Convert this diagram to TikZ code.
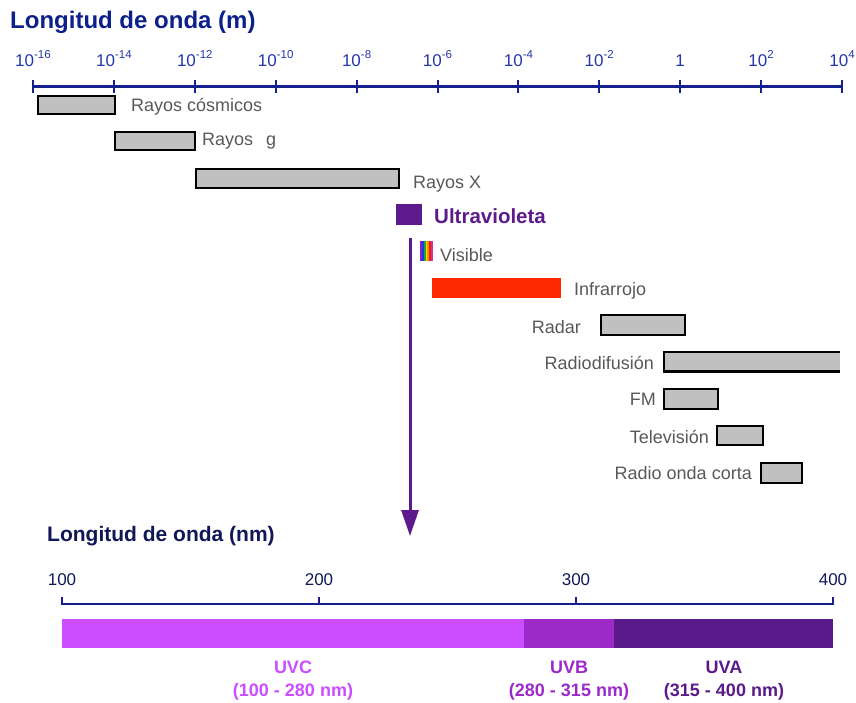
\documentclass[tikz,border=0pt]{standalone}
\usepackage{fontspec}
\setmainfont{Liberation Sans}
\usetikzlibrary{arrows.meta,calc}
\definecolor{navy}{RGB}{22,32,140}
\definecolor{ticklbl}{RGB}{35,55,165}
\definecolor{titletop}{RGB}{12,32,140}
\definecolor{navydark}{RGB}{16,24,88}
\definecolor{barg}{RGB}{192,192,192}
\definecolor{lblgray}{RGB}{88,88,88}
\definecolor{uvpurple}{RGB}{92,26,140}
\definecolor{uvccol}{RGB}{204,76,255}
\definecolor{uvbcol}{RGB}{155,42,201}
\definecolor{uvacol}{RGB}{90,26,138}
\definecolor{irred}{RGB}{255,42,0}
\begin{document}
\begin{tikzpicture}[x=1pt,y=-1pt,
  bar/.style={draw=black, line width=2.3pt, fill=barg, inner sep=0, anchor=north west},
  lbl/.style={text=lblgray, font=\fontsize{18}{20}\selectfont, inner sep=0},
  ticklabel/.style={text=ticklbl, font=\fontsize{17}{18}\selectfont, inner sep=0, anchor=base},
  nmlabel/.style={text=navydark, font=\fontsize{17}{18}\selectfont, inner sep=0, anchor=base},
  uvlbl/.style={font=\bfseries\fontsize{18}{23}\selectfont, align=center, inner sep=0, anchor=north},
  uvband/.style={inner sep=0, anchor=north west, minimum height=29pt}
]
\useasboundingbox (0,0) rectangle (856,702);

% ---------- top axis ----------
\node[anchor=west, inner sep=0, text=titletop, font=\bfseries\fontsize{24}{26}\selectfont] (title1) at (10,22) {Longitud de onda (m)};
\draw[navy, line width=3pt] (33,86) -- (842,86);
\foreach \i in {0,...,10}{
  \draw[navy, line width=2pt] ({33+\i*80.9},79.5) -- ({33+\i*80.9},92.5);
}
\newcommand{\tenp}[1]{10\raisebox{0.42em}{\fontsize{11.5}{11.5}\selectfont #1}}
\node[ticklabel] (t0) at ({33+0*80.9},66) {\tenp{-16}};
\node[ticklabel] (t1) at ({33+1*80.9},66) {\tenp{-14}};
\node[ticklabel] (t2) at ({33+2*80.9},66) {\tenp{-12}};
\node[ticklabel] (t3) at ({33+3*80.9},66) {\tenp{-10}};
\node[ticklabel] (t4) at ({33+4*80.9},66) {\tenp{-8}};
\node[ticklabel] (t5) at ({33+5*80.9},66) {\tenp{-6}};
\node[ticklabel] (t6) at ({33+6*80.9},66) {\tenp{-4}};
\node[ticklabel] (t7) at ({33+7*80.9},66) {\tenp{-2}};
\node[ticklabel] (t8) at ({33+8*80.9},66) {1};
\node[ticklabel] (t9) at ({33+9*80.9},66) {\tenp{2}};
\node[ticklabel] (t10) at ({33+10*80.9},66) {\tenp{4}};

% ---------- bars ----------
\node[bar, minimum width=77pt, minimum height=18pt] (cos) at (37,95) {};
\node[lbl, anchor=west] (coslbl) at (131,107) {Rayos cósmicos};

\node[bar, minimum width=80pt, minimum height=18pt] (gam) at (114,131) {};
\node[lbl, anchor=west] (gamlbl) at (202,141) {Rayos\hspace{13pt}g};

\node[bar, minimum width=203pt, minimum height=19pt] (xr) at (195,168) {};
\node[lbl, anchor=west] (xrlbl) at (413,184) {Rayos X};

\node[fill=uvpurple, inner sep=0, anchor=north west, minimum width=26pt, minimum height=21pt] (uv) at (396,204) {};
\node[anchor=west, inner sep=0, text=uvpurple, font=\bfseries\fontsize{20.5}{22}\selectfont] (uvlbl) at (434,216) {Ultravioleta};

% visible rainbow
\node[inner sep=0, anchor=north west, minimum width=13pt, minimum height=20pt] (vis) at (420,241) {};
\foreach \c [count=\i from 0] in {{rgb,255:red,140;green,30;blue,200},{rgb,255:red,30;green,60;blue,230},{rgb,255:red,20;green,170;blue,40},{rgb,255:red,250;green,220;blue,0},{rgb,255:red,255;green,140;blue,0},{rgb,255:red,235;green,30;blue,30},{rgb,255:red,210;green,50;blue,150}}{
  \fill[color=\c] ($(vis.north west)+({\i*13/7},0)$) rectangle ($(vis.north west)+({(\i+1)*13/7},20)$);
}
\node[lbl, anchor=west] (vislbl) at (440,255) {Visible};

\node[fill=irred, inner sep=0, anchor=north west, minimum width=129pt, minimum height=20pt] (ir) at (432,278) {};
\node[lbl, anchor=west] (irlbl) at (574,291) {Infrarrojo};

\node[bar, minimum width=84pt, minimum height=20pt] (rad) at (600,314) {};
\node[lbl, anchor=east] (radlbl) at (581,327) {Radar};

\node[fill=barg, inner sep=0, anchor=north west, minimum width=176pt, minimum height=19pt] (rdf) at (664,352) {};
\draw[black, line width=2.3pt] (rdf.north east) -- (rdf.north west) -- (rdf.south west) -- (rdf.south east);
\node[lbl, anchor=east] (rdflbl) at (654,363) {Radiodifusión};

\node[bar, minimum width=54pt, minimum height=20pt] (fm) at (663,388) {};
\node[lbl, anchor=east] (fmlbl) at (656,399) {FM};

\node[bar, minimum width=46pt, minimum height=19pt] (tv) at (716,425) {};
\node[lbl, anchor=east] (tvlbl) at (709,437) {Televisión};

\node[bar, minimum width=41pt, minimum height=20pt] (roc) at (760,462) {};
\node[lbl, anchor=east] (roclbl) at (752,473) {Radio onda corta};

% ---------- arrow ----------
\coordinate (arrtop) at (410,238);
\coordinate (arrtip) at (410,536);
\draw[uvpurple, line width=3pt, -{Triangle[width=17pt,length=26pt]}] (arrtop) -- (arrtip);

% ---------- bottom axis ----------
\node[anchor=west, inner sep=0, text=navydark, font=\bfseries\fontsize{21}{23}\selectfont] (title2) at (47,536) {Longitud de onda (nm)};
\draw[navy, line width=2.6pt] (62,604) -- (833,604);
\foreach \x in {62,319,576,833}{
  \draw[navy, line width=1.8pt] (\x,597) -- (\x,605);
}
\node[nmlabel] (n100) at (62,585) {100};
\node[nmlabel] (n200) at (319,585) {200};
\node[nmlabel] (n300) at (576,585) {300};
\node[nmlabel] (n400) at (833,585) {400};

\node[uvband, fill=uvccol, minimum width=462pt] (uvc) at (62,619) {};
\node[uvband, fill=uvbcol, minimum width=90pt] (uvb) at (524,619) {};
\node[uvband, fill=uvacol, minimum width=219pt] (uva) at (614,619) {};

\node[uvlbl, text=uvccol] (uvclbl) at (293,661) {UVC\\(100 - 280 nm)};
\node[uvlbl, text=uvbcol] (uvblbl) at (569,661) {UVB\\(280 - 315 nm)};
\node[uvlbl, text=uvacol] (uvalbl) at (724,661) {UVA\\(315 - 400 nm)};
\end{tikzpicture}
\end{document}
